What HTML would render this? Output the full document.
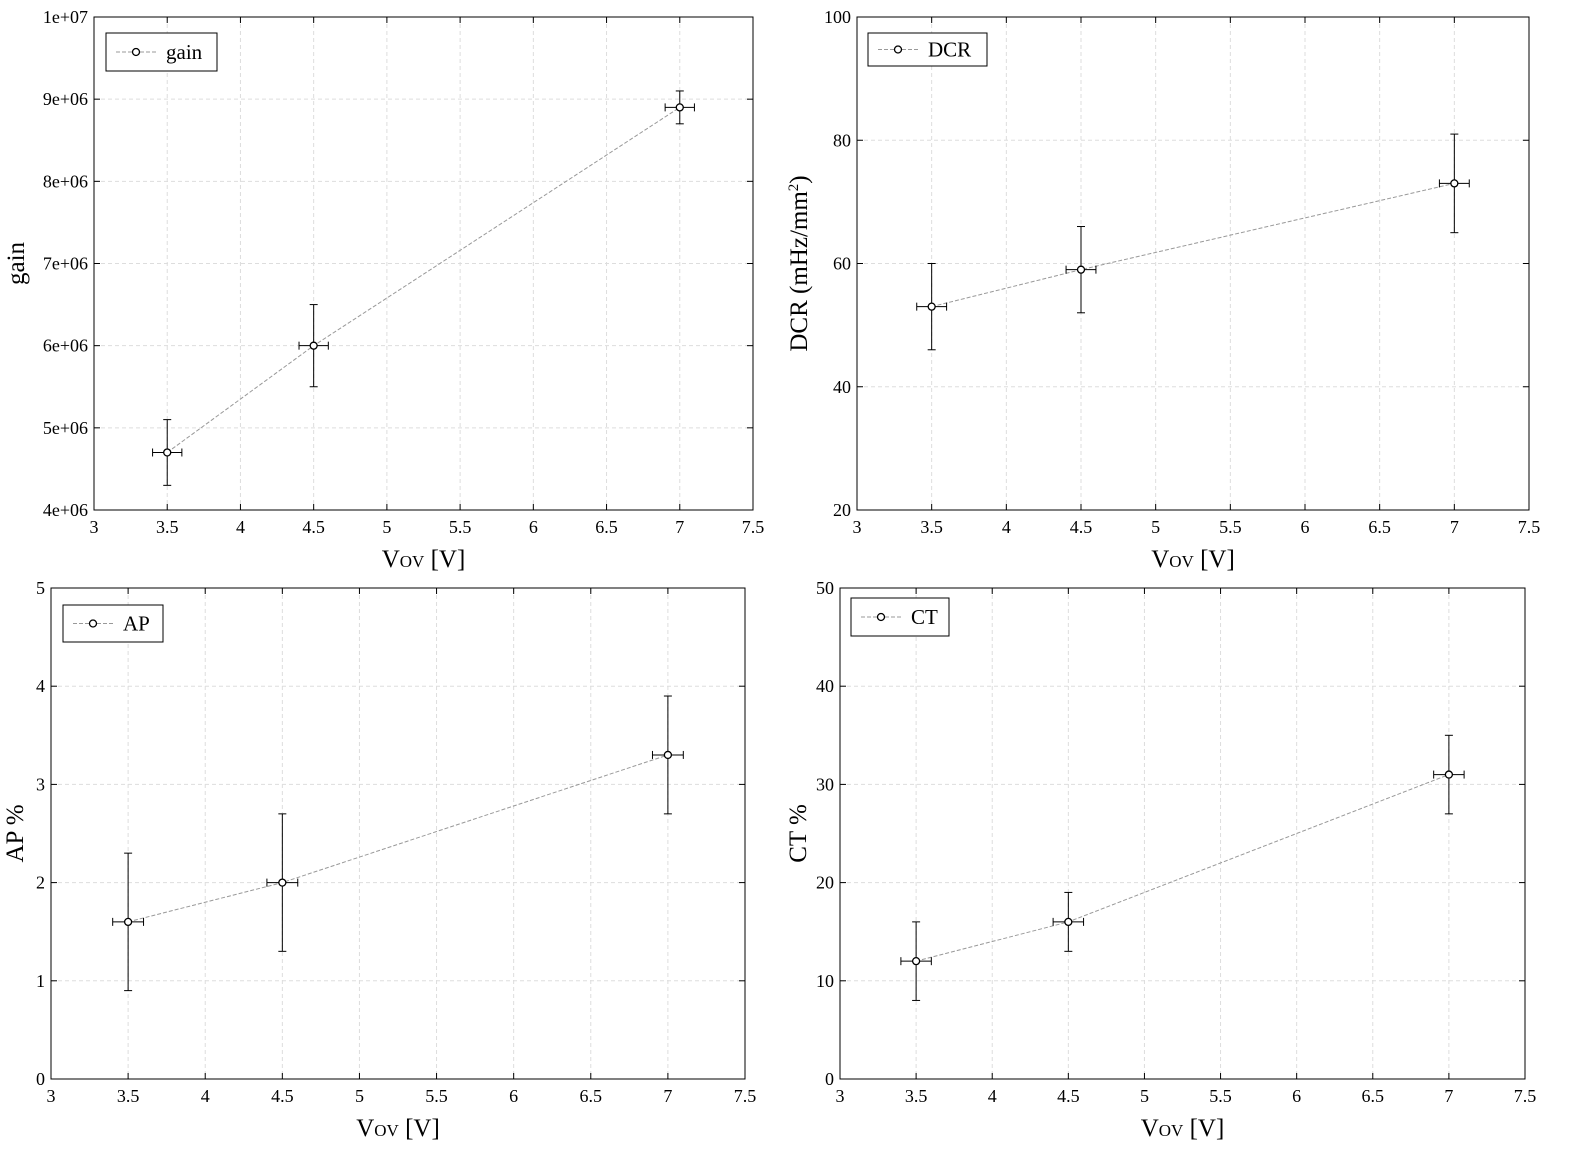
<!DOCTYPE html>
<html><head><meta charset="utf-8"><style>
html,body{margin:0;padding:0;background:#fff;overflow:hidden;width:1587px;height:1165px}
svg{display:block}
svg text{font-family:"Liberation Serif",serif;fill:#000}
</style></head><body>
<svg id="s" width="1587" height="1165"></svg>
<script>
const xs=[3.5,4.5,7];
const xErr=[0.1,0.1,0.1];
const gainVals=[4.7e6,6.0e6,8.9e6];
const gainLo=[4.3e6,5.5e6,8.7e6];
const gainHi=[5.1e6,6.5e6,9.1e6];
const dcrVals=[53,59,73];
const dcrLo=[46,52,65];
const dcrHi=[60,66,81];
const apVals=[1.6,2.0,3.3];
const apLo=[0.9,1.3,2.7];
const apHi=[2.3,2.7,3.9];
const ctVals=[12,16,31];
const ctLo=[8,13,27];
const ctHi=[16,19,35];
const xTicks=[3,3.5,4,4.5,5,5.5,6,6.5,7,7.5];
const gainTicks=[4e6,5e6,6e6,7e6,8e6,9e6,1e7];
const gainTickLabels=["4e+06","5e+06","6e+06","7e+06","8e+06","9e+06","1e+07"];
const dcrTicks=[20,40,60,80,100];
const apTicks=[0,1,2,3,4,5];
const ctTicks=[0,10,20,30,40,50];
const NS="http://www.w3.org/2000/svg";
const svg=document.getElementById('s');
function el(t,a,p){const e=document.createElementNS(NS,t);for(const k in a)e.setAttribute(k,a[k]);(p||svg).appendChild(e);return e;}
function panel(o){
 const g=el('g',{});
 
 
 const X=v=>o.x0+(v-3)/4.5*(o.x1-o.x0);
 const Y=v=>o.y1-(v-o.ymin)/(o.ymax-o.ymin)*(o.y1-o.y0);
 xTicks.forEach(t=>{const x=X(t);
  if(t>3&&t<7.5)el('line',{x1:x,x2:x,y1:o.y0,y2:o.y1,stroke:'#ddd','stroke-dasharray':'4,3'},g);
  el('line',{x1:x,x2:x,y1:o.y1,y2:o.y1-6,stroke:'#000'},g);
  el('line',{x1:x,x2:x,y1:o.y0,y2:o.y0+6,stroke:'#000'},g);
  const tx=el('text',{x:x,y:o.y1+23,'text-anchor':'middle','font-size':18},g);tx.textContent=String(t);
  
  });
 o.ticks.forEach((t,i)=>{const y=Y(t);
  if(i>0&&i<o.ticks.length-1)el('line',{x1:o.x0,x2:o.x1,y1:y,y2:y,stroke:'#ddd','stroke-dasharray':'4,3'},g);
  el('line',{x1:o.x0,x2:o.x0+6,y1:y,y2:y,stroke:'#000'},g);
  el('line',{x1:o.x1,x2:o.x1-6,y1:y,y2:y,stroke:'#000'},g);
  const tx=el('text',{x:o.x0-6,y:y+6,'text-anchor':'end','font-size':18},g);tx.textContent=o.labels?o.labels[i]:String(t);
  
  });
 el('rect',{x:o.x0,y:o.y0,width:o.x1-o.x0,height:o.y1-o.y0,fill:'none',stroke:'#000'},g);
 const pts=xs.map((x,i)=>X(x)+','+Y(o.vals[i])).join(' ');
 const pl=el('polyline',{points:pts,fill:'none',stroke:'#999','stroke-dasharray':'4,2'},g);
 
 
 xs.forEach((x,i)=>{const cx=X(x),cy=Y(o.vals[i]),yl=Y(o.lo[i]),yh=Y(o.hi[i]),xl=X(x-xErr[i]),xh=X(x+xErr[i]);
  el('line',{x1:cx,x2:cx,y1:yl,y2:yh,stroke:'#000'},g);
  el('line',{x1:cx-4,x2:cx+4,y1:yl,y2:yl,stroke:'#000'},g);
  el('line',{x1:cx-4,x2:cx+4,y1:yh,y2:yh,stroke:'#000'},g);
  el('line',{x1:xl,x2:xh,y1:cy,y2:cy,stroke:'#000'},g);
  el('line',{x1:xl,x2:xl,y1:cy-4,y2:cy+4,stroke:'#000'},g);
  el('line',{x1:xh,x2:xh,y1:cy-4,y2:cy+4,stroke:'#000'},g);
  const c=el('circle',{cx:cx,cy:cy,r:3.5,fill:'#fff',stroke:'#000','stroke-width':1.3},g);
  
  });
 const L=o.leg;
 const lg=el('g',{},g);
 
 
 el('rect',{x:L[0],y:L[1],width:L[2],height:L[3],fill:'#fff',stroke:'#000'},lg);
 const my=L[1]+L[3]/2;
 el('line',{x1:L[0]+10,x2:L[0]+50,y1:my,y2:my,stroke:'#999','stroke-dasharray':'4,2'},lg);
 el('circle',{cx:L[0]+30,cy:my,r:3.5,fill:'#fff',stroke:'#000','stroke-width':1.3},lg);
 const lt=el('text',{x:L[0]+60,y:my+7,'font-size':21},lg);lt.textContent=o.legText;
 const xl=el('text',{x:(o.x0+o.x1)/2,y:o.y1+57,'text-anchor':'middle','font-size':25},g);
 xl.innerHTML='V<tspan font-size="17">OV</tspan> [V]';
 
 
 const yc=(o.y0+o.y1)/2, yx=o.x0-o.yOff;
 const yt=el('text',{x:yx,y:yc,'text-anchor':'middle','font-size':25,transform:`rotate(-90 ${yx} ${yc})`},g);
 yt.innerHTML=o.yTitle;
 
 
}
panel({name:'gain',x0:94,x1:753,y0:17,y1:510,ymin:4e6,ymax:1e7,ticks:gainTicks,labels:gainTickLabels,vals:gainVals,lo:gainLo,hi:gainHi,leg:[106,33,111,38],legText:'gain',yTitle:'gain',yOff:70});
panel({name:'dcr',x0:857,x1:1529,y0:17,y1:510,ymin:20,ymax:100,ticks:dcrTicks,vals:dcrVals,lo:dcrLo,hi:dcrHi,leg:[868,33,119,33],legText:'DCR',yTitle:'DCR (mHz/mm<tspan font-size="15" dy="-9">2</tspan><tspan dy="9">)</tspan>',yOff:50});
panel({name:'ap',x0:51,x1:745,y0:588,y1:1079,ymin:0,ymax:5,ticks:apTicks,vals:apVals,lo:apLo,hi:apHi,leg:[63,605,100,37],legText:'AP',yTitle:'AP %',yOff:28});
panel({name:'ct',x0:840,x1:1525,y0:588,y1:1079,ymin:0,ymax:50,ticks:ctTicks,vals:ctVals,lo:ctLo,hi:ctHi,leg:[851,598,98,38],legText:'CT',yTitle:'CT %',yOff:34});
</script>
</body></html>
